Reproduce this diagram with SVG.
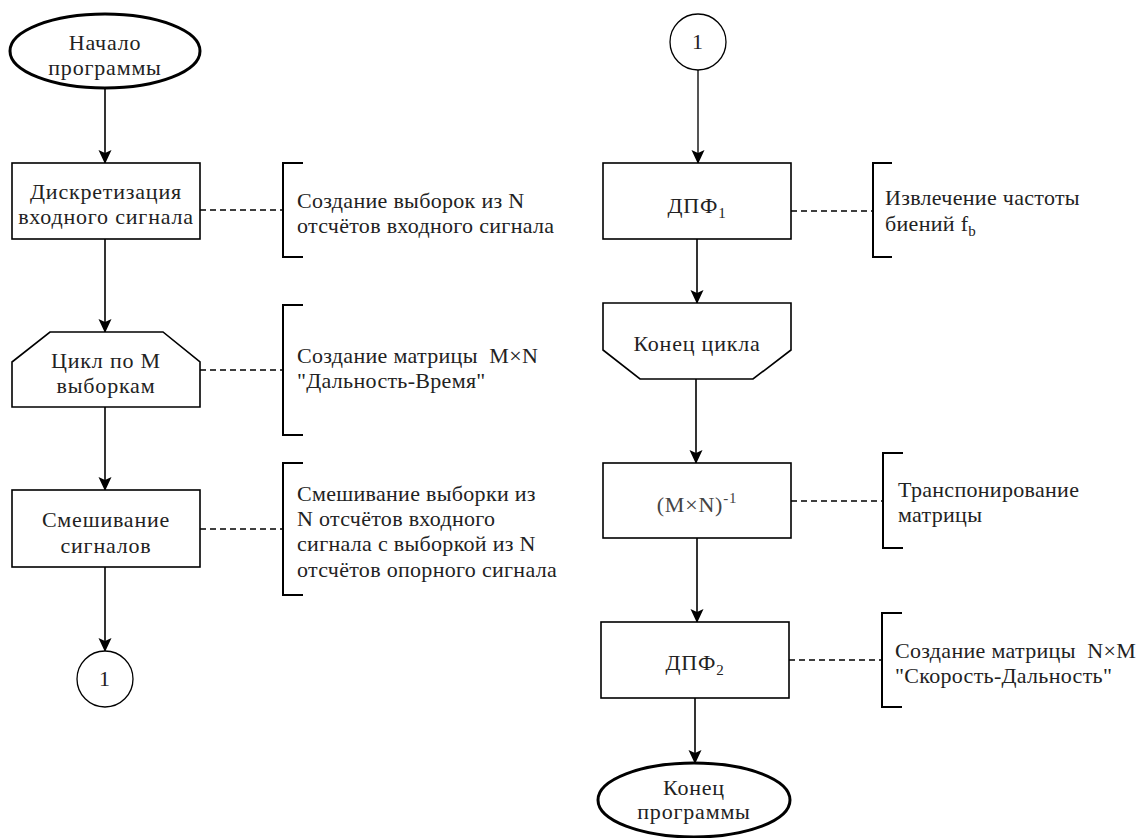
<svg xmlns="http://www.w3.org/2000/svg" width="1138" height="838" viewBox="0 0 1138 838">
<defs>
<marker id="arr" markerWidth="14" markerHeight="14" refX="13" refY="6.5" orient="auto" markerUnits="userSpaceOnUse">
<path d="M0,0 L14,6.5 L0,13 L3,6.5 z" fill="#000"/>
</marker>
<style>
text{font-family:"Liberation Serif",serif}
.c{text-anchor:middle;letter-spacing:0.8px}
.n{letter-spacing:0.3px}
.box{fill:#fff;stroke:#000;stroke-width:1.6}
.term{fill:#fff;stroke:#000;stroke-width:3}
.circ{fill:#fff;stroke:#000;stroke-width:1.3}
.flow{fill:none;stroke:#000;stroke-width:1.6}
.dash{fill:none;stroke:#000;stroke-width:1.4;stroke-dasharray:6 4}
.br{fill:none;stroke:#000;stroke-width:2}
.sub{font-size:15px}
</style>
</defs>
<rect width="1138" height="838" fill="#fff"/>

<g id="connectors">
<line class="flow" x1="105" y1="89" x2="105" y2="163" marker-end="url(#arr)"/>
<line class="flow" x1="105" y1="239" x2="105" y2="332" marker-end="url(#arr)"/>
<line class="flow" x1="105" y1="407" x2="105" y2="490" marker-end="url(#arr)"/>
<line class="flow" x1="105" y1="567" x2="105" y2="651" marker-end="url(#arr)"/>
<line class="flow" x1="698" y1="70" x2="698" y2="163" marker-end="url(#arr)" style="stroke:#555;stroke-width:2"/>
<line class="flow" x1="697" y1="239" x2="697" y2="303" marker-end="url(#arr)"/>
<line class="flow" x1="696" y1="379" x2="696" y2="463" marker-end="url(#arr)"/>
<line class="flow" x1="697" y1="538" x2="697" y2="622" marker-end="url(#arr)"/>
<line class="flow" x1="695" y1="698" x2="695" y2="763" marker-end="url(#arr)"/>
<line class="dash" x1="200" y1="210" x2="283" y2="210"/>
<line class="dash" x1="200" y1="370" x2="283" y2="370"/>
<line class="dash" x1="200" y1="529" x2="283" y2="529"/>
<line class="dash" x1="791" y1="211" x2="873" y2="211"/>
<line class="dash" x1="791" y1="501" x2="883" y2="501"/>
<line class="dash" x1="789" y1="660" x2="882" y2="660"/>
</g>

<g font-family="Liberation Serif, serif" font-size="22" fill="#222">
<g id="start">
<ellipse class="term" cx="105" cy="51" rx="95" ry="37"/>
<text class="c" x="105" y="50">Начало</text>
<text class="c" x="105" y="75">программы</text>
</g>

<g id="discretization">
<rect class="box" x="12" y="163" width="188" height="76"/>
<text class="c" x="106" y="199">Дискретизация</text>
<text class="c" x="106" y="224">входного сигнала</text>
</g>

<g id="loop-start">
<polygon class="box" points="50,332 163,332 200,362 200,407 12,407 12,362"/>
<text class="c" x="106" y="368">Цикл по М</text>
<text class="c" x="106" y="393">выборкам</text>
</g>

<g id="mixing">
<rect class="box" x="12" y="490" width="188" height="77"/>
<text class="c" x="106" y="527">Смешивание</text>
<text class="c" x="106" y="553">сигналов</text>
</g>

<g id="connector-out">
<circle class="circ" cx="105" cy="679" r="28"/>
<text class="c" x="105" y="686">1</text>
</g>

<g id="note-1">
<path class="br" d="M303,163 H283 V257 H303"/>
<text class="n" x="297" y="208">Создание выборок из N</text>
<text class="n" x="297" y="233">отсчётов входного сигнала</text>
</g>

<g id="note-2">
<path class="br" d="M303,305 H283 V435 H303"/>
<text class="n" x="297" y="363" xml:space="preserve">Создание матрицы  M×N</text>
<text class="n" x="297" y="388">"Дальность-Время"</text>
</g>

<g id="note-3">
<path class="br" d="M303,463 H283 V595 H303"/>
<text class="n" x="297" y="501">Смешивание выборки из</text>
<text class="n" x="297" y="526">N отсчётов входного</text>
<text class="n" x="297" y="551">сигнала с выборкой из N</text>
<text class="n" x="297" y="577">отсчётов опорного сигнала</text>
</g>

<g id="connector-in">
<circle class="circ" cx="698" cy="42" r="28"/>
<text class="c" x="698" y="49">1</text>
</g>

<g id="dft1">
<rect class="box" x="603" y="163" width="188" height="76"/>
<text class="c" x="697" y="213">ДПФ<tspan class="sub" dy="5">1</tspan></text>
</g>

<g id="loop-end">
<polygon class="box" points="603,303 791,303 791,350 753,379 640,379 603,350"/>
<text class="c" x="697" y="351">Конец цикла</text>
</g>

<g id="transpose">
<rect class="box" x="603" y="463" width="188" height="75"/>
<text class="c" x="697" y="512" fill="#444">(M×N)<tspan class="sub" dy="-9">-1</tspan></text>
</g>

<g id="dft2">
<rect class="box" x="601" y="622" width="188" height="76"/>
<text class="c" x="695" y="670">ДПФ<tspan class="sub" dy="5">2</tspan></text>
</g>

<g id="end">
<ellipse class="term" cx="694" cy="800" rx="96" ry="37"/>
<text class="c" x="694" y="795">Конец</text>
<text class="c" x="694" y="819">программы</text>
</g>

<g id="note-4">
<path class="br" d="M892,163 H873 V257 H892"/>
<text class="n" x="885" y="205">Извлечение частоты</text>
<text class="n" x="885" y="231">биений f<tspan class="sub" dy="5">b</tspan></text>
</g>

<g id="note-5">
<path class="br" d="M903,453 H883 V548 H903"/>
<text class="n" x="898" y="497">Транспонирование</text>
<text class="n" x="898" y="522">матрицы</text>
</g>

<g id="note-6">
<path class="br" d="M902,613 H882 V707 H902"/>
<text class="n" x="895" y="658" xml:space="preserve">Создание матрицы  N×M</text>
<text class="n" x="895" y="683">"Скорость-Дальность"</text>
</g>
</g>
</svg>
